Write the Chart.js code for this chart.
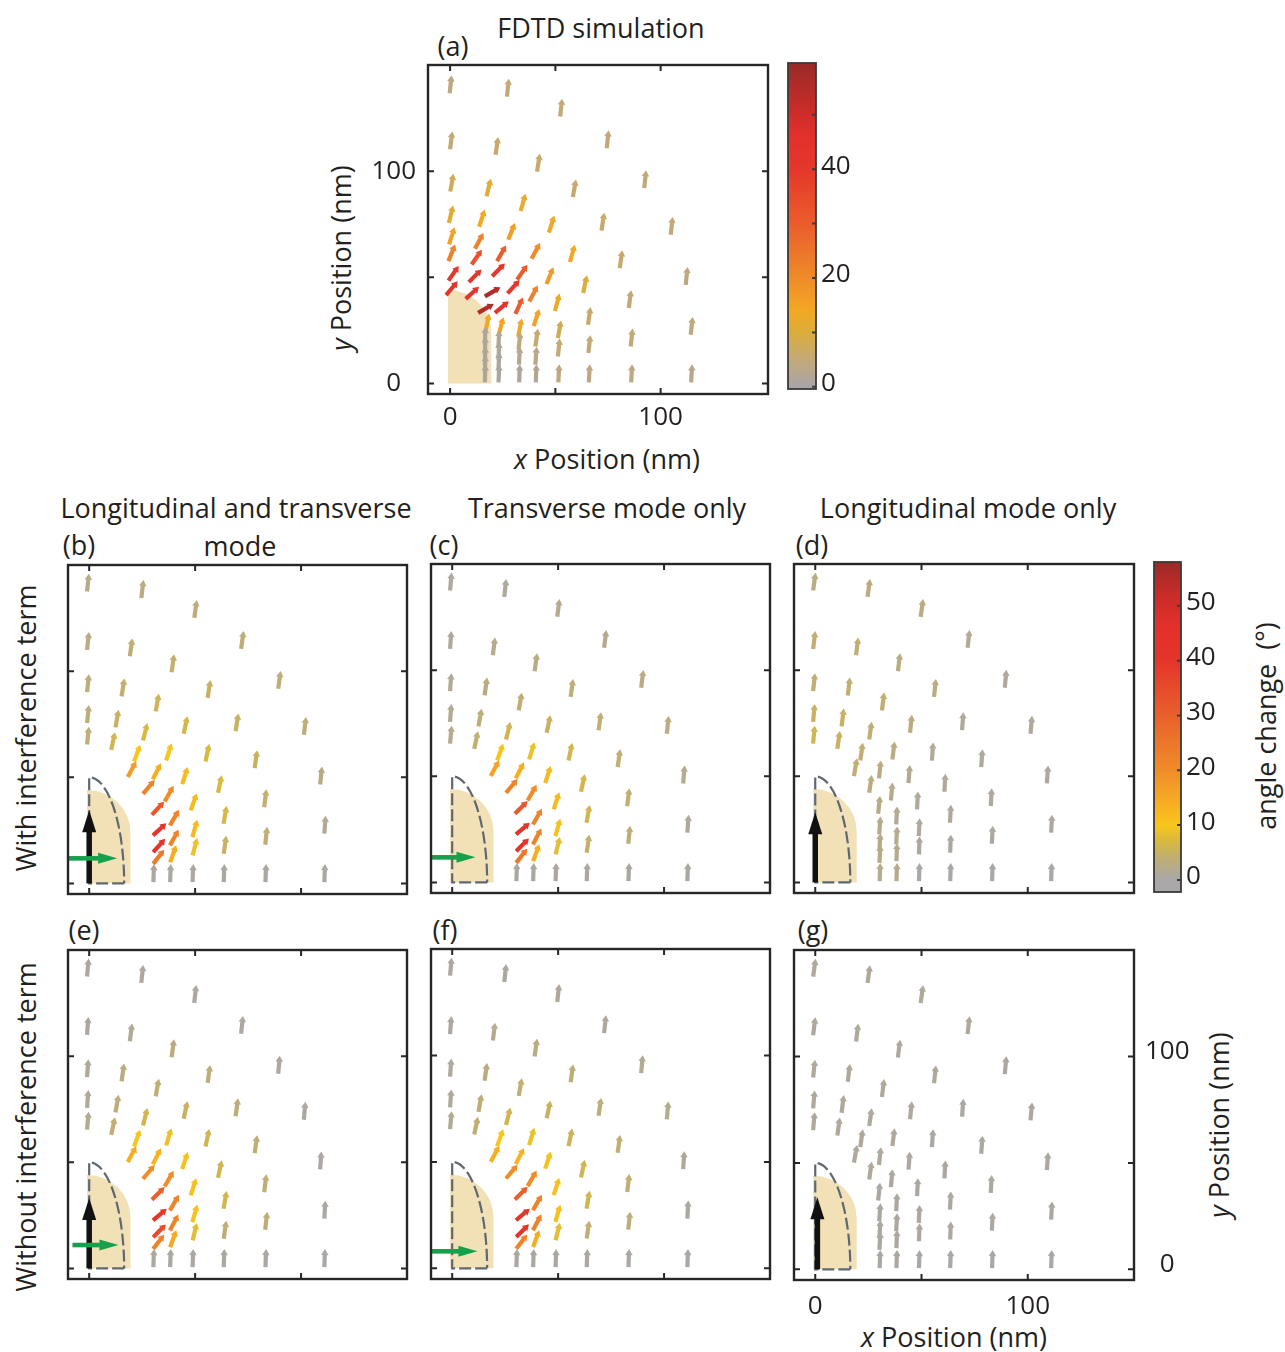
<!DOCTYPE html>
<html>
<head>
<meta charset="utf-8">
<title>Polarization angle maps</title>
<script src="https://cdn.jsdelivr.net/npm/chart.js@4.4.1/dist/chart.umd.min.js"></script>
<style>
  html, body { margin: 0; background: #ffffff; }
  #fig { position: relative; width: 1285px; height: 1352px; overflow: hidden;
         font-family: "Open Sans", "Noto Sans", sans-serif; color: #231f20; }
  #fig canvas { position: absolute; }
  .t { position: absolute; white-space: nowrap; font-size: 27px; line-height: 1;
       transform: translate(-50%, -50%); }
  .r { transform: translate(-50%, -50%) rotate(-90deg); }
</style>
</head>
<body>
<div id="fig">
  <div class="t" style="left:601px;top:27px">FDTD simulation</div>
  <div class="t" style="left:453px;top:45px">(a)</div>
  <div class="t r" style="left:340px;top:258px"><i>y</i> Position (nm)</div>
  <div class="t" style="left:607px;top:458px"><i>x</i> Position (nm)</div>

  <div class="t" style="left:236px;top:507px">Longitudinal and transverse</div>
  <div class="t" style="left:240px;top:545px">mode</div>
  <div class="t" style="left:607px;top:507px">Transverse mode only</div>
  <div class="t" style="left:968px;top:507px">Longitudinal mode only</div>
  <div class="t" style="left:79px;top:544px">(b)</div>
  <div class="t" style="left:444px;top:544px">(c)</div>
  <div class="t" style="left:812px;top:544px">(d)</div>
  <div class="t" style="left:84px;top:929px">(e)</div>
  <div class="t" style="left:445px;top:929px">(f)</div>
  <div class="t" style="left:813px;top:929px">(g)</div>

  <div class="t r" style="left:25px;top:728px">With interference term</div>
  <div class="t r" style="left:25px;top:1127px">Without interference term</div>
  <div class="t" style="left:954px;top:1336px"><i>x</i> Position (nm)</div>
  <div class="t r" style="left:1218px;top:1125px"><i>y</i> Position (nm)</div>
  <div class="t r" style="left:1265px;top:726px">angle change&nbsp; (°)</div>
</div>

<script>
// ---------------- axis ticks ----------------
const posTicks = [0, 50, 100];
const posTickLabels = ['0', '', '100'];
const fdtdBarTicks = [0, 10, 20, 30, 40, 50];
const fdtdBarLabels = ['0', '', '20', '', '40', ''];
const modelBarTicks = [0, 10, 20, 30, 40, 50];
const modelBarLabels = ['0', '10', '20', '30', '40', '50'];
const fdtdBarRange = [-0.4, 59.5];
const modelBarRange = [-2.2, 58];

// ---------------- FDTD field samples (arrow tails, nm) ----------------
// eight rings around the rod, each listed from the y axis down to the x axis
const fdtdX = [
  -0.2, 27, 52.3, 74.4, 92.2, 104.8, 111.9, 114.3, 114.5,
  0, 21.6, 41.3, 58.3, 71.9, 80.6, 84.9, 85.8, 86,
  0.1, 17.3, 33.5, 46.9, 56.9, 63.2, 65.5, 65.7, 65.9,
  -0.6, 13.8, 27.6, 38.7, 45.8, 49.8, 51.2, 51.2, 51.4,
  -0.5, 11.8, 22.3, 31.8, 37.6, 39.7, 40.5, 40.5, 40.7,
  -0.8, 10.2, 20, 27.3, 31, 32.4, 32.5, 32.7, 32.8,
  -0.8, 8.9, 16.5, 21.3, 23.1, 22.9, 23, 23, 23,
  -1.9, 7.4, 13.3, 16.8, 16.5, 16.5, 16.5, 16.5, 16.5
];
const fdtdY = [
  136.7, 135.1, 125.7, 110.8, 92, 70, 46.4, 22.9, 0.5,
  110.3, 107.7, 99.8, 87.7, 72, 54.3, 35.5, 17.4, 0.5,
  90.4, 88.2, 81.2, 71, 57.2, 42.6, 27.6, 14.3, 0.5,
  75.6, 73.8, 67.7, 58.7, 46.8, 34.1, 21.3, 12.7, 0.5,
  65.5, 63.4, 57.6, 48.9, 38.6, 27, 17.4, 8.8, 0.5,
  57.6, 56, 50.5, 42.4, 32.8, 22.3, 15.8, 8.8, 0.5,
  48.4, 47.7, 41, 33.2, 23, 16.6, 11.1, 6.4, 0.5,
  41.6, 39.8, 33.2, 24.6, 18.2, 13.5, 8.8, 4.8, 0.5
];
// field direction, degrees clockwise from +y
const tiltA = [
  6, 6, 6, 6, 6, 6, 6, 6, 3,
  7, 8, 9, 10, 9, 8, 7, 6, 3,
  10, 14, 16, 18, 16, 12, 8, 6, 3,
  14, 18, 22, 28, 22, 15, 10, 6, 3,
  18, 28, 30, 35, 28, 18, 8, 4, 2,
  22, 35, 45, 42, 25, 11, 6, 3, 2,
  35, 45, 60, 50, 15, 3, 2, 2, 2,
  40, 48, 60, 12, 2, 2, 2, 2, 2
];
// angle change, degrees
const changeA = [
  4, 5, 5, 5, 5, 5, 4, 4, 3,
  5, 6, 6, 6, 6, 6, 5, 5, 4,
  8, 11, 12, 13, 14, 10, 6, 5, 4,
  11, 14, 16, 20, 17, 13, 8, 5, 4,
  15, 22, 30, 30, 22, 15, 6, 3, 2,
  22, 33, 40, 40, 30, 13, 4, 2, 1,
  40, 42, 55, 43, 15, 2, 1, 1, 1,
  42, 43, 55, 14, 1, 1, 1, 1, 1
];

// ---------------- model field samples (arrow tails, nm), shared by (b)-(g) ----------------
const modelX = [
  -1, 24.6, 49.6, 71.7, 89.2, 101.3, 109, 111, 111,
  -1, 19.2, 38.9, 55.9, 69.1, 78.1, 82.6, 83.1, 83.2,
  -1, 15.3, 31.4, 44.6, 54.9, 60.8, 63.4, 63.5, 63.5,
  -1, 12.4, 25.4, 36.3, 43.9, 47.9, 48.7, 48.8, 48.8,
  -1, 10.4, 21.2, 30, 35.6, 38.1, 38.1, 38.2, 38.2,
  18.2, 25.4, 29.6, 30.1, 30.2, 30.2, 30.3
];
const modelY = [
  137.5, 134.5, 125.1, 110.5, 91.7, 70, 46.6, 23.4, 0.6,
  110, 107, 99.5, 87.4, 71.7, 54.3, 35.9, 18.2, 0.6,
  90.1, 88.1, 81, 70.5, 57.4, 42.7, 28.1, 14, 0.6,
  75.6, 73.5, 67.3, 57.9, 46.8, 34.4, 21.8, 13.2, 0.6,
  65.4, 62.9, 57.4, 49, 38.6, 27.3, 17.9, 10, 0.6,
  50.1, 42.2, 32.3, 22.6, 14.7, 9.2, 0.6
];

// (b) longitudinal + transverse, with interference
const tiltB = [
  6, 7, 8, 8, 8, 7, 6, 4, 2,
  6, 8, 8, 9, 9, 8, 7, 6, 2,
  6, 9, 10, 12, 12, 12, 10, 8, 2,
  6, 10, 14, 18, 18, 20, 16, 15, 2,
  6, 12, 20, 27, 30, 30, 29, 20, 2,
  28, 40, 43, 48, 42, 38, 2
];
const changeB = [
  2.5, 3, 3.5, 3.5, 3.5, 3.5, 2.5, 1.5, 0.5,
  3, 4, 4.5, 5, 5, 5, 4.5, 4, 0.5,
  3.5, 4.5, 5.5, 6.5, 7, 7, 6.5, 5, 0.5,
  3.5, 5, 7, 10, 12, 12, 12, 9, 0.5,
  4, 6, 10, 14, 20, 22, 22, 14, 0.5,
  17, 22, 32, 40, 42, 24, 0.5
];
// (c) transverse only, with interference
const tiltC = [
  5, 6, 7, 7, 7, 6, 5, 4, 2,
  4, 7, 8, 8, 8, 8, 7, 6, 2,
  4, 8, 10, 12, 12, 12, 10, 8, 2,
  4, 10, 14, 17, 18, 18, 16, 14, 2,
  5, 12, 20, 27, 30, 30, 28, 20, 2,
  28, 40, 45, 50, 45, 38, 2
];
const changeC = [
  1, 1, 2, 2, 3, 3, 2, 1, 0.5,
  1, 2, 3, 3.5, 4, 4, 4, 3.5, 0.5,
  1.5, 3, 4, 5, 6, 6.5, 6, 4.5, 0.5,
  1.5, 3.5, 6, 9, 12, 12, 11, 8, 0.5,
  2, 4, 10, 14, 20, 22, 22, 14, 0.5,
  16, 22, 32, 40, 42, 25, 0.5
];
// (d) longitudinal only, with interference
const tiltD = [
  8, 8, 8, 6, 5, 5, 4, 3, 2,
  7, 7, 7, 6, 4, 4, 3, 3, 2,
  6, 7, 7, 6, 4, 3, 3, 2, 2,
  5, 7, 8, 7, 4, 3, 3, 2, 2,
  5, 8, 8, 6, 5, 3, 3, 2, 2,
  10, 8, 6, 4, 3, 3, 2
];
const changeD = [
  3, 3, 3, 1.5, 1, 1, 0.5, 0.5, 0,
  4, 4, 3, 3, 1, 1, 1, 0.5, 0,
  4, 4, 4, 3, 1.5, 1, 1, 0.5, 0,
  5, 5, 4, 3, 1.5, 1, 1, 0.5, 0,
  6, 5, 4, 3, 2, 1.5, 2, 2, 2,
  4, 3, 2.5, 2, 2.5, 2.5, 2
];
// (e) longitudinal + transverse, no interference
const tiltE = [
  5, 6, 6, 6, 5, 5, 4, 3, 2,
  4, 7, 8, 8, 8, 8, 7, 6, 2,
  4, 8, 10, 12, 12, 12, 10, 8, 2,
  4, 10, 14, 17, 18, 18, 16, 14, 2,
  5, 12, 20, 27, 30, 30, 28, 20, 2,
  28, 40, 45, 50, 45, 38, 2
];
const changeE = [
  0.5, 0.5, 0.5, 0.5, 0.5, 0.5, 0.5, 0.5, 0,
  0.5, 1.5, 3, 3.5, 3.5, 4, 4, 3.5, 0.5,
  1, 3, 4, 5, 6, 6, 6, 4, 0.5,
  1, 3.5, 6, 9, 11, 11, 11, 8, 0.5,
  1.5, 4, 10, 13, 20, 22, 22, 15, 0.5,
  14, 20, 30, 40, 35, 22, 0.5
];
// (f) transverse only, no interference
const tiltF = [
  5, 6, 6, 6, 5, 5, 4, 3, 2,
  4, 7, 8, 8, 8, 8, 7, 6, 2,
  4, 8, 10, 12, 12, 12, 10, 8, 2,
  4, 10, 14, 17, 18, 18, 16, 14, 2,
  5, 12, 20, 27, 30, 30, 28, 20, 2,
  28, 40, 45, 50, 45, 38, 2
];
const changeF = [
  0.5, 0.5, 1, 1, 1.5, 2, 1, 0.5, 0,
  0.5, 2, 3, 3.5, 3.5, 4, 4, 3.5, 0.5,
  1, 3, 4, 5, 5.5, 6, 6, 4, 0.5,
  1, 3.5, 6, 9, 11, 11, 11, 8, 0.5,
  1.5, 4, 10, 13, 20, 22, 22, 14, 0.5,
  14, 20, 30, 40, 40, 22, 0.5
];
// (g) longitudinal only, no interference
const tiltG = [
  8, 8, 8, 6, 5, 5, 4, 3, 2,
  7, 7, 7, 6, 4, 4, 3, 3, 2,
  6, 7, 7, 6, 4, 3, 3, 2, 2,
  5, 7, 8, 7, 4, 3, 3, 2, 2,
  5, 8, 8, 6, 5, 3, 3, 2, 2,
  10, 8, 6, 4, 3, 3, 2
];
const changeG = [
  1, 1, 1, 1, 0.5, 0.5, 0.5, 0.5, 0,
  1, 1, 1, 1, 0.5, 0.5, 0.5, 0.5, 0,
  1, 1, 1, 1, 0.5, 0.5, 0.5, 0.5, 0,
  1, 1, 1, 1, 0.5, 0.5, 0.5, 0.5, 0,
  1, 1, 1, 1, 0.5, 0.5, 0.5, 0.5, 0.5,
  1, 1, 0.5, 0.5, 0.5, 0.5, 0.5
];

// ---------------- colour maps (value, colour) ----------------
const fdtdColours = [[0,'#a9a5a7'],[5,'#c2a977'],[10,'#dbad3b'],[14,'#f3a824'],[20,'#ef8b29'],
  [30,'#ea5d2c'],[40,'#e5372b'],[46,'#e3302b'],[52,'#c42c29'],[59.5,'#992a27']];
const modelColours = [[0,'#a9a7a8'],[4,'#c0ae72'],[7,'#d9b840'],[10,'#f8c61b'],[15,'#f6a823'],
  [20,'#f08c29'],[30,'#e9602c'],[40,'#e5352b'],[46,'#e4302b'],[52,'#c92c29'],[58,'#9b2a27']];

function hexRgb(h) { return [1, 3, 5].map(i => parseInt(h.substr(i, 2), 16)); }
function colourAt(map, v) {
  if (v <= map[0][0]) return map[0][1];
  for (let i = 1; i < map.length; i++) {
    if (v <= map[i][0]) {
      const t = (v - map[i - 1][0]) / (map[i][0] - map[i - 1][0]);
      const a = hexRgb(map[i - 1][1]), b = hexRgb(map[i][1]);
      const c = a.map((x, k) => Math.round(x + (b[k] - x) * t));
      return `rgb(${c[0]},${c[1]},${c[2]})`;
    }
  }
  return map[map.length - 1][1];
}

// ---------------- drawing helpers ----------------
const INK = '#262626';
const TEXT = '#231f20';
const TICK_FONT = { family: "'Open Sans', 'Noto Sans', sans-serif", size: 26 };
const rod = { left: -1, right: 19.5, top: 44, shoulder: 24 };   // rod cross-section, nm
const shell = { rx: 16.5, ry: 50 };                              // dashed model outline, nm

function arrow(ctx, x0, y0, deg, len, shaftW, headW, headL, colour) {
  const a = deg * Math.PI / 180;
  const dx = Math.sin(a), dy = -Math.cos(a);
  const x1 = x0 + dx * len, y1 = y0 + dy * len;
  const xb = x1 - dx * headL, yb = y1 - dy * headL;
  ctx.strokeStyle = colour; ctx.fillStyle = colour;
  ctx.lineWidth = shaftW; ctx.lineCap = 'butt';
  ctx.beginPath(); ctx.moveTo(x0, y0); ctx.lineTo(xb + dx * 0.5, yb + dy * 0.5); ctx.stroke();
  ctx.beginPath();
  ctx.moveTo(x1, y1);
  ctx.lineTo(xb - dy * headW / 2, yb + dx * headW / 2);
  ctx.lineTo(xb + dy * headW / 2, yb - dx * headW / 2);
  ctx.closePath(); ctx.fill();
}

function decorPlugin(p) {
  return {
    id: 'panelDecor',
    beforeDatasetsDraw(chart) {
      const { ctx } = chart, sx = chart.scales.x, sy = chart.scales.y;
      const xl = sx.getPixelForValue(rod.left), xr = sx.getPixelForValue(rod.right);
      const yt = sy.getPixelForValue(rod.top), ys = sy.getPixelForValue(rod.shoulder);
      const y0 = sy.getPixelForValue(0);
      ctx.save();
      ctx.fillStyle = '#f2e1b6';
      ctx.beginPath();
      ctx.moveTo(xl, y0); ctx.lineTo(xl, yt);
      ctx.ellipse(xl, ys, xr - xl, ys - yt, 0, -Math.PI / 2, 0);
      ctx.lineTo(xr, y0); ctx.closePath(); ctx.fill();
      ctx.restore();
    },
    afterDatasetsDraw(chart) {
      const { ctx } = chart, sx = chart.scales.x, sy = chart.scales.y;
      ctx.save();
      if (p.outline) {
        const cx = sx.getPixelForValue(0), cy = sy.getPixelForValue(0);
        const rx = sx.getPixelForValue(shell.rx) - cx, ry = cy - sy.getPixelForValue(shell.ry);
        ctx.strokeStyle = '#5f6870'; ctx.lineWidth = 2.2; ctx.setLineDash([12, 4]);
        ctx.beginPath();
        ctx.moveTo(cx + rx, cy); ctx.lineTo(cx, cy); ctx.lineTo(cx, cy - ry);
        ctx.ellipse(cx, cy, rx, ry, 0, -Math.PI / 2, 0);
        ctx.stroke();
        ctx.setLineDash([]);
      }
      const meta = chart.getDatasetMeta(0);
      meta.data.forEach((pt, i) => {
        arrow(ctx, pt.x, pt.y, p.tilt[i], 18, 4.2, 7.5, 6, colourAt(p.cmap, p.change[i]));
      });
      if (p.black) {
        const bx = sx.getPixelForValue(p.black.x);
        arrow(ctx, bx, sy.getPixelForValue(0), 0, sy.getPixelForValue(0) - sy.getPixelForValue(p.black.tip),
              5.5, 14, 22, '#111111');
      }
      if (p.green) {
        const gy = sy.getPixelForValue(p.green.y);
        const gx0 = sx.getPixelForValue(p.green.from), gx1 = sx.getPixelForValue(p.green.to);
        arrow(ctx, gx0, gy, 90, gx1 - gx0, 4.6, 11, 19, '#17a04b');
      }
      ctx.restore();
    },
    afterDraw(chart) {
      const { ctx, chartArea: a } = chart, sx = chart.scales.x, sy = chart.scales.y;
      ctx.save();
      ctx.strokeStyle = INK; ctx.lineWidth = 2.4;
      ctx.strokeRect(a.left, a.top, a.right - a.left, a.bottom - a.top);
      ctx.lineWidth = 2;
      ctx.beginPath();
      posTicks.forEach(v => {
        const x = sx.getPixelForValue(v), y = sy.getPixelForValue(v);
        ctx.moveTo(x, a.bottom); ctx.lineTo(x, a.bottom - 6);
        ctx.moveTo(x, a.top); ctx.lineTo(x, a.top + 6);
        ctx.moveTo(a.left, y); ctx.lineTo(a.left + 6, y);
        ctx.moveTo(a.right, y); ctx.lineTo(a.right - 6, y);
      });
      ctx.stroke();
      ctx.restore();
    }
  };
}

const fig = document.getElementById('fig');
function addCanvas(left, top, w, h) {
  const c = document.createElement('canvas');
  c.width = w; c.height = h;
  c.style.left = left + 'px'; c.style.top = top + 'px';
  c.style.width = w + 'px'; c.style.height = h + 'px';
  fig.appendChild(c);
  return c;
}

function buildPanel(p) {
  const M = 8, TOP = 30, AX = 70, AY = 40;
  const extraL = p.yAxis === 'left' ? AX : M;
  const extraR = p.yAxis === 'right' ? AX : M;
  const extraT = p.yAxis ? TOP : M;
  const extraB = p.xAxis ? AY : M;
  const canvas = addCanvas(p.left - extraL, p.top - extraT, p.w + extraL + extraR, p.h + extraT + extraB);
  new Chart(canvas, {
    type: 'scatter',
    data: {
      datasets: [{ data: p.xs.map((x, i) => ({ x, y: p.ys[i] })), pointRadius: 0, pointHoverRadius: 0 }]
    },
    options: {
      responsive: false, animation: false, events: [], devicePixelRatio: 1,
      layout: { padding: {
        left: p.yAxis === 'left' ? 0 : M, right: p.yAxis === 'right' ? 0 : M,
        top: extraT, bottom: p.xAxis ? 0 : M } },
      plugins: { legend: { display: false }, tooltip: { enabled: false } },
      scales: {
        x: {
          type: 'linear', min: p.xMin, max: p.xMax, display: !!p.xAxis, position: 'bottom',
          afterBuildTicks: s => { s.ticks = posTicks.map(v => ({ value: v })); },
          afterFit: s => { if (p.xAxis) s.height = AY; },
          grid: { display: false, drawTicks: false }, border: { display: false },
          ticks: { callback: (v, i) => posTickLabels[i], font: TICK_FONT, color: TEXT,
                   padding: p.xPad || 8, maxRotation: 0, autoSkip: false }
        },
        y: {
          type: 'linear', min: -5, max: 150, display: !!p.yAxis, position: p.yAxis || 'left',
          afterBuildTicks: s => { s.ticks = posTicks.map(v => ({ value: v })); },
          afterFit: s => { if (p.yAxis) s.width = AX; },
          grid: { display: false, drawTicks: false }, border: { display: false },
          ticks: { callback: (v, i) => posTickLabels[i], font: TICK_FONT, color: TEXT,
                   padding: p.yPad || 12, crossAlign: 'center', labelOffset: p.yOff || 0, autoSkip: false }
        }
      }
    },
    plugins: [decorPlugin(p)]
  });
}

function barPlugin(ticks) {
  return {
    id: 'barFrame',
    afterDraw(chart) {
      const { ctx, chartArea: a } = chart, sy = chart.scales.y;
      ctx.save();
      ctx.strokeStyle = '#3a3a3a'; ctx.lineWidth = 1.8;
      ctx.strokeRect(a.left, a.top, a.right - a.left, a.bottom - a.top);
      ctx.lineWidth = 2;
      ctx.beginPath();
      ticks.forEach(v => { const y = sy.getPixelForValue(v); ctx.moveTo(a.right, y); ctx.lineTo(a.right - 4, y); });
      ctx.stroke();
      ctx.restore();
    }
  };
}

function buildBar(b) {
  const M = 24, AX = 60;
  const canvas = addCanvas(b.left - 6, b.top - M, b.w + 6 + AX, b.h + 2 * M);
  new Chart(canvas, {
    type: 'bar',
    data: {
      labels: ['angle change'],
      datasets: [{
        data: [b.range],
        barPercentage: 1, categoryPercentage: 1, borderWidth: 0, borderSkipped: false,
        backgroundColor: c => {
          const ch = c.chart, a = ch.chartArea;
          if (!a) return b.cmap[0][1];
          const g = ch.ctx.createLinearGradient(0, a.top, 0, a.bottom);
          const [lo, hi] = b.range;
          b.cmap.forEach(([v, col]) => g.addColorStop(Math.min(1, Math.max(0, (hi - v) / (hi - lo))), col));
          return g;
        }
      }]
    },
    options: {
      responsive: false, animation: false, events: [], devicePixelRatio: 1,
      layout: { padding: { left: 6, right: 0, top: M, bottom: M } },
      plugins: { legend: { display: false }, tooltip: { enabled: false } },
      scales: {
        x: { display: false },
        y: {
          type: 'linear', position: 'right', min: b.range[0], max: b.range[1],
          afterBuildTicks: s => { s.ticks = b.ticks.map(v => ({ value: v })); },
          afterFit: s => { s.width = AX; },
          grid: { display: false, drawTicks: false }, border: { display: false },
          ticks: { callback: (v, i) => b.labels[i], font: TICK_FONT, color: TEXT,
                   padding: 5, labelOffset: -3, autoSkip: false }
        }
      }
    },
    plugins: [barPlugin(b.ticks)]
  });
}

// ---------------- panels ----------------
buildPanel({ left: 428, top: 65, w: 340, h: 329, xMin: -10.5, xMax: 151,
  xs: fdtdX, ys: fdtdY, tilt: tiltA, change: changeA, cmap: fdtdColours,
  xAxis: true, yAxis: 'left', xPad: 8, yPad: 12, yOff: 0 });

buildPanel({ left: 68, top: 565, w: 339, h: 329, xMin: -10, xMax: 150,
  xs: modelX, ys: modelY, tilt: tiltB, change: changeB, cmap: modelColours, outline: true,
  black: { x: 0, tip: 34.5 }, green: { y: 11.8, from: -10, to: 13.2 } });
buildPanel({ left: 431, top: 564, w: 339, h: 329, xMin: -10, xMax: 150,
  xs: modelX, ys: modelY, tilt: tiltC, change: changeC, cmap: modelColours, outline: true,
  green: { y: 11.8, from: -10, to: 11 } });
buildPanel({ left: 794, top: 564, w: 340, h: 329, xMin: -10, xMax: 150,
  xs: modelX, ys: modelY, tilt: tiltD, change: changeD, cmap: modelColours, outline: true,
  black: { x: 0, tip: 33 } });

buildPanel({ left: 68, top: 950, w: 339, h: 329, xMin: -10, xMax: 150,
  xs: modelX, ys: modelY, tilt: tiltE, change: changeE, cmap: modelColours, outline: true,
  black: { x: 0, tip: 33.2 }, green: { y: 11, from: -7.9, to: 13.8 } });
buildPanel({ left: 431, top: 949, w: 339, h: 330, xMin: -10, xMax: 150,
  xs: modelX, ys: modelY, tilt: tiltF, change: changeF, cmap: modelColours, outline: true,
  green: { y: 8, from: -10, to: 11.9 } });
buildPanel({ left: 794, top: 950, w: 340, h: 330, xMin: -10, xMax: 150,
  xs: modelX, ys: modelY, tilt: tiltG, change: changeG, cmap: modelColours, outline: true,
  black: { x: 1, tip: 33.9 }, xAxis: true, yAxis: 'right', xPad: 11, yPad: 11, yOff: -5 });

// ---------------- colour bars ----------------
buildBar({ left: 788, top: 63, w: 28, h: 326, range: fdtdBarRange, ticks: fdtdBarTicks,
  labels: fdtdBarLabels, cmap: fdtdColours });
buildBar({ left: 1154, top: 562, w: 27, h: 330, range: modelBarRange, ticks: modelBarTicks,
  labels: modelBarLabels, cmap: modelColours });
</script>
</body>
</html>
